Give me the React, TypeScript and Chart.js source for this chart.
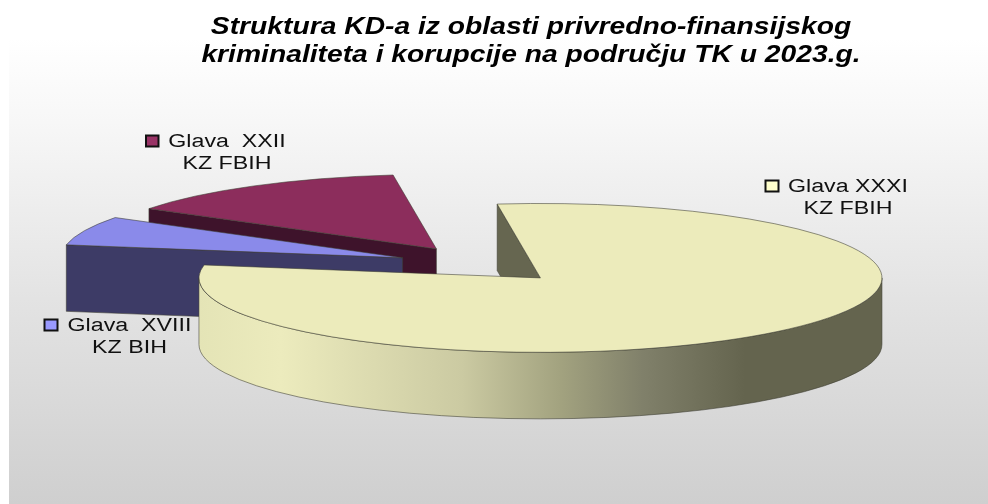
import React, { useEffect, useRef } from "react";
import { Chart, registerables } from "chart.js";

Chart.register(...registerables);

// Data, in clockwise order starting at the left of the gap
const categories = ["Glava  XVIII", "Glava  XXII", "Glava XXXI"];
const categorySubLabels = ["KZ BIH", "KZ FBIH", "KZ FBIH"];
const values = [6.3, 13.9, 79.8];
const titleLines = [
  "Struktura KD-a iz oblasti privredno-finansijskog",
  "kriminaliteta i korupcije na području TK u 2023.g.",
];

// Style
const topColors = ["#8a8aea", "#8c2d5c", "#ecebbb"];
const faceColors = ["#3d3b66", "#3e132b", "#666650"];
const swatchColors = ["#9999ff", "#993366", "#ffffcc"];
const paintOrder = [1, 0, 2];
const wallStops: [number, string][] = [
  [0, "#e4e4b6"],
  [0.12, "#ecebbd"],
  [0.385, "#cbcaa2"],
  [0.53, "#a2a27f"],
  [0.65, "#80806a"],
  [0.8, "#64644e"],
  [1, "#64644e"],
];
const CX = 481.8;
const CY = 264.5;
const RADIUS = 341.5;
const K = 0.218;
const DEPTH = 66.5;
const EXPLODE = 85;
const TITLE_CX = 531;
const TITLE_SX = 1.228;
const LABEL_SX = 1.29;
const labelBoxes = [
  { sw: [44.5, 319.5, 13, 11], cx: 129.5, y1: 326.5, y2: 348 },
  { sw: [146, 135.5, 12.5, 11], cx: 227, y1: 142.5, y2: 164.5 },
  { sw: [765.5, 180.5, 13, 11], cx: 848, y1: 187, y2: 209 },
];

const pie3d = {
  id: "pie3d",
  beforeDraw(chart: any) {
    const { ctx, width, height } = chart;
    ctx.save();
    ctx.fillStyle = "#ffffff";
    ctx.fillRect(0, 0, width, height);
    const g = ctx.createLinearGradient(0, 38, 0, 504);
    g.addColorStop(0, "#ffffff");
    g.addColorStop(0.18, "#f7f7f7");
    g.addColorStop(0.56, "#e3e3e3");
    g.addColorStop(1, "#cfcfcf");
    ctx.fillStyle = g;
    ctx.fillRect(9, 38, width - 9, height - 38);
    ctx.restore();
    // title layer is stretched horizontally like the reference
    ctx.save();
    ctx.translate(TITLE_CX, 0);
    ctx.scale(TITLE_SX, 1);
    ctx.translate(-TITLE_CX, 0);
  },
  beforeDatasetsDraw(chart: any) {
    chart.ctx.restore();
  },
  beforeDatasetDraw(chart: any, args: any) {
    const { ctx } = chart;
    const arcs = chart.getDatasetMeta(args.index).data;
    const edge = "rgba(60,60,50,0.75)";
    paintOrder.forEach((i) => {
      const arc = arcs[i];
      const { x, y, startAngle: a0, endAngle: a1, outerRadius: r } = arc.getProps(
        ["x", "y", "startAngle", "endAngle", "outerRadius"],
        true
      );
      const mid = (a0 + a1) / 2;
      const ox = CX + Math.cos(mid) * EXPLODE;
      const oy = CY + Math.sin(mid) * EXPLODE * K;
      const pt = (t: number) => [ox + r * Math.cos(t), oy + r * K * Math.sin(t)];

      // radial faces that look towards the viewer
      [
        [a0, Math.sin(a0 - Math.PI / 2) > 0],
        [a1, Math.sin(a1 + Math.PI / 2) > 0],
      ].forEach(([t, visible]: any) => {
        if (!visible) return;
        const [px, py] = pt(t);
        ctx.beginPath();
        ctx.moveTo(ox, oy);
        ctx.lineTo(px, py);
        ctx.lineTo(px, py + DEPTH);
        ctx.lineTo(ox, oy + DEPTH);
        ctx.closePath();
        ctx.fillStyle = faceColors[i];
        ctx.fill();
        ctx.strokeStyle = edge;
        ctx.lineWidth = 0.75;
        ctx.stroke();
      });

      // outer wall: the part of the rim that faces the viewer
      const norm = (t: number) => ((t % (2 * Math.PI)) + 2 * Math.PI) % (2 * Math.PI);
      const s = norm(a0);
      const span = a1 - a0;
      const w0 = s + span > 2 * Math.PI ? 0 : s < Math.PI ? s : null;
      if (w0 !== null) {
        const w1 = Math.min(Math.PI, s + span > 2 * Math.PI ? s + span - 2 * Math.PI : s + span);
        const grad = ctx.createLinearGradient(ox - r, 0, ox + r, 0);
        wallStops.forEach(([p, c]) => grad.addColorStop(p, c));
        ctx.beginPath();
        ctx.ellipse(ox, oy, r, r * K, 0, w0, w1, false);
        ctx.ellipse(ox, oy + DEPTH, r, r * K, 0, w1, w0, true);
        ctx.closePath();
        ctx.fillStyle = grad;
        ctx.fill();
        ctx.strokeStyle = edge;
        ctx.lineWidth = 0.75;
        ctx.stroke();
      }

      // top face, drawn by the library's own arc element
      ctx.save();
      ctx.translate(ox, oy);
      ctx.scale(1, K);
      ctx.translate(-x, -y);
      arc.draw(ctx);
      ctx.restore();

      ctx.beginPath();
      ctx.moveTo(ox, oy);
      ctx.ellipse(ox, oy, r, r * K, 0, a0, a1, false);
      ctx.closePath();
      ctx.strokeStyle = edge;
      ctx.lineWidth = 0.75;
      ctx.stroke();
    });
    return false;
  },
  afterDatasetsDraw(chart: any) {
    const { ctx } = chart;
    categories.forEach((name, i) => {
      const b = labelBoxes[i];
      ctx.save();
      ctx.fillStyle = swatchColors[i];
      ctx.strokeStyle = "#111111";
      ctx.lineWidth = 2;
      ctx.fillRect(b.sw[0], b.sw[1], b.sw[2], b.sw[3]);
      ctx.strokeRect(b.sw[0], b.sw[1], b.sw[2], b.sw[3]);
      ctx.fillStyle = "#111111";
      ctx.font = '18px "Liberation Sans"';
      ctx.textAlign = "center";
      ctx.textBaseline = "middle";
      const put = (text: string, y: number) => {
        ctx.save();
        ctx.translate(b.cx, y);
        ctx.scale(LABEL_SX, 1);
        ctx.fillText(text, 0, 0);
        ctx.restore();
      };
      put(name, b.y1);
      put(categorySubLabels[i], b.y2);
      ctx.restore();
    });
  },
};

export default function App() {
  const ref = useRef<HTMLCanvasElement>(null);
  useEffect(() => {
    const chart = new Chart(ref.current as HTMLCanvasElement, {
      type: "pie",
      data: {
        labels: categories,
        datasets: [
          {
            data: values,
            backgroundColor: topColors,
            borderWidth: 0,
            offset: 0,
          },
        ],
      },
      options: {
        responsive: false,
        animation: false,
        rotation: -80,
        radius: RADIUS,
        layout: { padding: { left: 74 } },
        plugins: {
          legend: { display: false },
          tooltip: { enabled: false },
          title: {
            display: true,
            text: titleLines,
            color: "#000000",
            font: { family: '"Liberation Sans"', size: 23, weight: "bold", style: "italic", lineHeight: 1.2 },
            padding: { top: 14, bottom: 0 },
          },
        },
      },
      plugins: [pie3d],
    } as any);
    return () => chart.destroy();
  }, []);
  return (
    <canvas
      ref={ref}
      width={988}
      height={504}
      style={{ position: "fixed", left: 0, top: 0, display: "block", filter: "blur(0.5px)" }}
    />
  );
}
